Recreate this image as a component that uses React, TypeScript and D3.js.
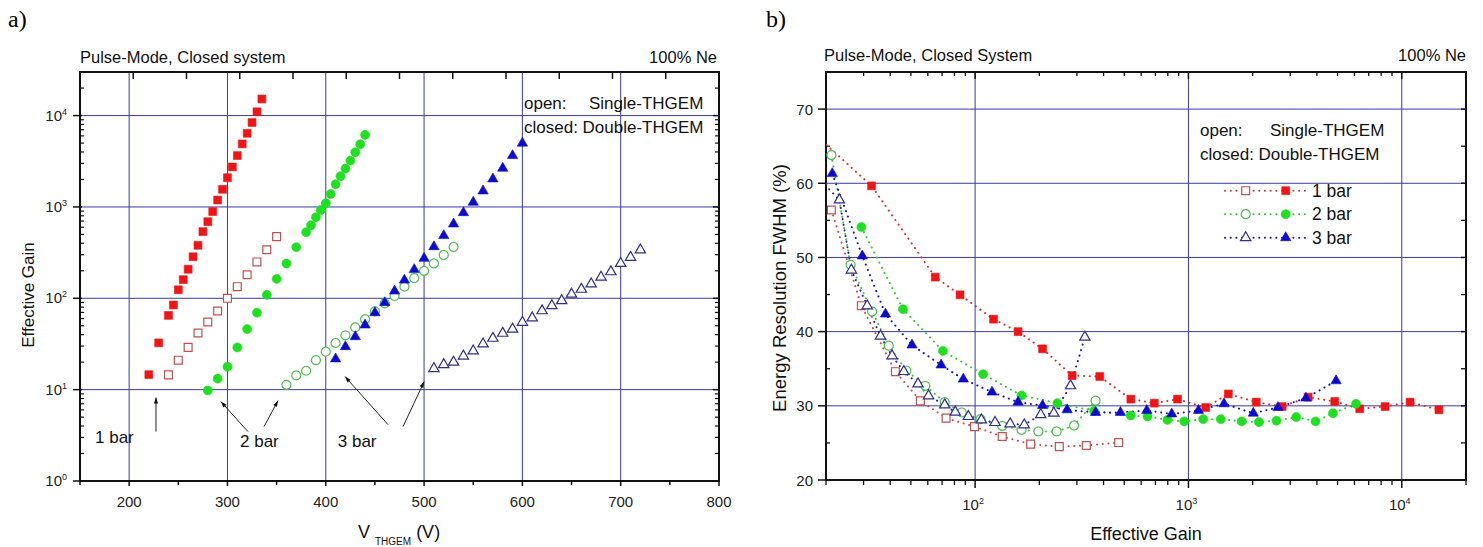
import React from 'react';
import * as d3 from 'd3';

const FONT = "'Liberation Sans', Arial, Helvetica, sans-serif";
const SERIF = "'Liberation Serif', 'Times New Roman', serif";

// ---------- Panel a: Effective gain vs V_THGEM ----------
const a1barSingleV = [240, 250, 260, 270, 280, 290, 300, 310, 320, 330, 340, 350];
const a1barSingleGain = [14.5, 21, 29, 41.7, 55, 72.6, 100, 134, 181, 250, 340, 473];
const a1barDoubleV = [220, 230, 240, 245, 250, 255, 260, 265, 270, 275, 280, 285, 290, 295, 300, 305, 310, 315, 320, 325, 330, 335];
const a1barDoubleGain = [14.6, 32.5, 65, 84.5, 124, 160, 208, 285, 380, 537, 690, 890, 1190, 1560, 2090, 2740, 3650, 4900, 6400, 8400, 11000, 15200];
const a2barSingleV = [360, 370, 380, 390, 400, 410, 420, 430, 440, 450, 460, 470, 480, 490, 500, 510, 520, 530];
const a2barSingleGain = [11.3, 14.3, 16.1, 21, 26, 32.4, 39.3, 48, 59, 72, 88, 106, 134, 166, 200, 241, 298, 365];
const a2barDoubleV = [280, 290, 300, 310, 320, 330, 340, 350, 360, 370, 380, 385, 390, 395, 400, 405, 410, 415, 420, 425, 430, 435, 440];
const a2barDoubleGain = [9.8, 13.2, 17.8, 29, 46, 69.5, 109, 163, 240, 363, 528, 631, 771, 927, 1097, 1387, 1774, 2170, 2630, 3215, 3970, 4860, 6150];
const a3barSingleV = [510, 520, 530, 540, 550, 560, 570, 580, 590, 600, 610, 620, 630, 640, 650, 660, 670, 680, 690, 700, 710, 720];
const a3barSingleGain = [17, 18.8, 20, 23.3, 26.5, 31.6, 36.5, 41.4, 46, 54.6, 61, 73, 83, 94, 111, 125.5, 143.6, 170, 195, 241, 281, 338];
const a3barDoubleV = [410, 420, 430, 440, 450, 460, 470, 480, 490, 500, 510, 520, 530, 540, 550, 560, 570, 580, 590, 600];
const a3barDoubleGain = [21.7, 29.5, 38, 51, 69.5, 89.6, 120, 158, 206, 274, 367, 485, 651, 865, 1124, 1496, 2026, 2652, 3646, 4990];

const aXTicks = [200, 300, 400, 500, 600, 700, 800];
const aXMinor = [150, 250, 350, 450, 550, 650, 750];
const aYExponents = [0, 1, 2, 3, 4];

// annotations (data units: V, gain)
const aNoteLabels = ['1 bar', '2 bar', '3 bar'];
const aNoteTextPos = [[165.3, 2.63], [312.8, 2.38], [412.2, 2.38]];
const aArrows = [
  [[227.3, 3.47], [227.3, 8.2]],
  [[320.9, 3.47], [293.4, 7.39]],
  [[337.2, 3.94], [351.4, 7.58]],
  [[463.3, 4.14], [419.6, 13.9]],
  [[478.6, 3.94], [500.0, 12.2]],
];

// ---------- Panel b: Energy resolution vs effective gain ----------
const b1barSingleGain = [21.2, 29.3, 42.3, 55.4, 73.1, 99.3, 134, 182, 248, 332, 471];
const b1barSingleRes = [56.4, 43.5, 34.6, 30.67, 28.34, 27.2, 25.86, 24.84, 24.5, 24.65, 25.05];
const b1barDoubleGain = [14.6, 32.7, 65, 85, 122, 159, 207, 285, 384, 537, 692, 889, 1205, 1538, 2079, 2750, 3640, 4850, 6350, 8350, 10940, 14930];
const b1barDoubleRes = [68.8, 59.65, 47.35, 44.96, 41.68, 40.0, 37.68, 34.08, 33.95, 30.9, 30.36, 30.9, 29.77, 31.6, 30.5, 29.9, 31.17, 30.58, 29.6, 29.9, 30.5, 29.46];
const b2barSingleGain = [21.2, 26.1, 32.9, 39.4, 47.6, 58.4, 72, 86.6, 106, 134, 165, 198, 241, 291, 367];
const b2barSingleRes = [63.8, 49.0, 42.7, 38.1, 34.76, 32.7, 30.5, 29.1, 28.2, 27.3, 26.77, 26.54, 26.54, 27.35, 30.7];
const b2barDoubleGain = [29.3, 45.9, 70.6, 109, 165, 243, 361, 537, 643, 797, 955, 1172, 1417, 1775, 2140, 2586, 3200, 3940, 4760, 6100];
const b2barDoubleRes = [54.1, 43.03, 37.4, 34.27, 31.4, 30.36, 29.3, 28.7, 28.56, 28.1, 27.9, 28.2, 28.2, 27.9, 27.8, 27.98, 28.48, 27.9, 29.0, 30.27];
const b3barSingleGain = [19, 23.1, 26.3, 31.2, 36, 40.8, 46.3, 54, 60.5, 72, 80.7, 93, 107, 124, 146, 170, 203, 234, 280, 327];
const b3barSingleRes = [60.3, 57.76, 48.3, 43.48, 39.4, 36.74, 34.62, 32.96, 31.35, 30.13, 29.15, 28.56, 28.1, 27.75, 27.57, 27.44, 28.8, 29.0, 32.7, 39.26];
const b3barDoubleGain = [21.4, 29.6, 38, 50.6, 69.3, 88, 120, 159, 207, 270, 367, 480, 638, 835, 1114, 1468, 2014, 2627, 3555, 4920];
const b3barDoubleRes = [61.3, 50.2, 42.36, 38.2, 35.5, 33.6, 31.85, 30.5, 30.04, 29.46, 29.1, 29.1, 29.37, 28.9, 29.37, 30.27, 29.0, 29.77, 31.04, 33.37];

const bYTicks = [20, 30, 40, 50, 60, 70];
const bYMinor = [25, 35, 45, 55, 65];
const bXExponents = [2, 3, 4];
const legendLabels = ['1 bar', '2 bar', '3 bar'];

// ---------- styles ----------
const COL = {
  redFill: '#f01515', redOpen: '#c25050',
  greenFill: '#1ee01e', greenOpen: '#4cbf4c',
  blueFill: '#0b0bd0', blueOpen: '#2e2e8c',
};
const GRID = '#3a3aa6';
const AXIS = '#111';
const DOTS = '0.1 5.6';

type Shape = 'square' | 'circle' | 'triangle';
const symType = { square: d3.symbolSquare, circle: d3.symbolCircle, triangle: d3.symbolTriangle };
const symSize = { square: 62, circle: 64, triangle: 46 };
const symPath = (s: Shape) => d3.symbol().type(symType[s]).size(symSize[s])() as string;

function Mk({ x, y, shape, filled, color }: { x: number; y: number; shape: Shape; filled: boolean; color: string }) {
  return (
    <path
      d={symPath(shape)}
      transform={`translate(${x},${y})`}
      fill={filled ? color : '#fff'}
      stroke={color}
      strokeWidth={filled ? 0.6 : 1.2}
    />
  );
}

export default function App() {
  // scales
  const xA = d3.scaleLinear().domain([150, 800]).range([80, 719]);
  const yA = d3.scaleLog().domain([1, 30000]).range([481, 72]);
  const topA = d3.scaleLinear().domain([0, 12]).range(xA.range());
  const xB = d3.scaleLog().domain([20, 20000]).range([826, 1466]);
  const yB = d3.scaleLinear().domain([20, 75]).range([480, 72]);

  const [aL, aR] = xA.range();
  const [aB, aT] = yA.range();
  const [bL, bR] = xB.range();
  const [bBot, bTop] = yB.range();

  const aYMinor: number[] = [];
  for (let e = 0; e <= 4; e++) for (let k = 2; k <= 9; k++) { const v = k * 10 ** e; if (v < 30000) aYMinor.push(v); }
  const bXMinor: number[] = [];
  for (let e = 1; e <= 4; e++) for (let k = 2; k <= 9; k++) { const v = k * 10 ** e; if (v >= 20 && v <= 20000) bXMinor.push(v); }

  const seriesA = [
    { v: a1barSingleV, g: a1barSingleGain, shape: 'square' as Shape, filled: false, color: COL.redOpen },
    { v: a2barSingleV, g: a2barSingleGain, shape: 'circle' as Shape, filled: false, color: COL.greenOpen },
    { v: a3barSingleV, g: a3barSingleGain, shape: 'triangle' as Shape, filled: false, color: COL.blueOpen },
    { v: a1barDoubleV, g: a1barDoubleGain, shape: 'square' as Shape, filled: true, color: COL.redFill },
    { v: a2barDoubleV, g: a2barDoubleGain, shape: 'circle' as Shape, filled: true, color: COL.greenFill },
    { v: a3barDoubleV, g: a3barDoubleGain, shape: 'triangle' as Shape, filled: true, color: COL.blueFill },
  ];

  const seriesB = [
    { g: b1barSingleGain, r: b1barSingleRes, shape: 'square' as Shape, filled: false, color: COL.redOpen, line: '#d04848' },
    { g: b2barSingleGain, r: b2barSingleRes, shape: 'circle' as Shape, filled: false, color: COL.greenOpen, line: '#40c040' },
    { g: b3barSingleGain, r: b3barSingleRes, shape: 'triangle' as Shape, filled: false, color: COL.blueOpen, line: '#22229a' },
    { g: b1barDoubleGain, r: b1barDoubleRes, shape: 'square' as Shape, filled: true, color: COL.redFill, line: '#e02a2a' },
    { g: b2barDoubleGain, r: b2barDoubleRes, shape: 'circle' as Shape, filled: true, color: COL.greenFill, line: '#30cc30' },
    { g: b3barDoubleGain, r: b3barDoubleRes, shape: 'triangle' as Shape, filled: true, color: COL.blueFill, line: '#1414b4' },
  ];

  const lineB = d3.line<[number, number]>().x(d => xB(d[0])).y(d => yB(d[1]));

  const legendColors = [
    [COL.redOpen, COL.redFill, '#d03838'],
    [COL.greenOpen, COL.greenFill, '#38c038'],
    [COL.blueOpen, COL.blueFill, '#1a1aa8'],
  ];
  const legendShapes: Shape[] = ['square', 'circle', 'triangle'];

  return (
    <svg width={1483} height={547} style={{ position: 'absolute', left: 0, top: 0, background: '#fff' }} fontFamily={FONT}>
      <defs>
        <marker id="arrowhead" viewBox="0 0 10 10" refX="10" refY="5" markerWidth="7" markerHeight="6" orient="auto" markerUnits="userSpaceOnUse">
          <path d="M0,1.5L10,5L0,8.5z" fill="#111" />
        </marker>
        <clipPath id="clipB">
          <rect x={bL} y={bTop} width={bR - bL} height={bBot - bTop} />
        </clipPath>
      </defs>
      <rect x={0} y={0} width={1483} height={547} fill="#fff" />

      {/* ================= Panel a ================= */}
      <text x={8} y={27} fontFamily={SERIF} fontSize={24} fill="#000">a)</text>
      <text x={aL} y={63} fontSize={16.5} fill="#111">Pulse-Mode, Closed system</text>
      <text x={aR - 2} y={63} fontSize={16.5} fill="#111" textAnchor="end">100% Ne</text>

      {/* grid */}
      {aXTicks.filter(v => v > 150 && v < 800).map(v => (
        <line key={'agx' + v} x1={xA(v)} x2={xA(v)} y1={aT} y2={aB} stroke={GRID} strokeWidth={1} />
      ))}
      {aYExponents.filter(e => e > 0).map(e => (
        <line key={'agy' + e} x1={aL} x2={aR} y1={yA(10 ** e)} y2={yA(10 ** e)} stroke={GRID} strokeWidth={1} />
      ))}

      {/* ticks */}
      {aXTicks.map(v => <line key={'axt' + v} x1={xA(v)} x2={xA(v)} y1={aB} y2={aB + 5} stroke={AXIS} strokeWidth={1.5} />)}
      {aXMinor.map(v => <line key={'axm' + v} x1={xA(v)} x2={xA(v)} y1={aB} y2={aB + 4} stroke={AXIS} strokeWidth={1.5} />)}
      {d3.range(1, 12).map(i => <line key={'atop' + i} x1={topA(i)} x2={topA(i)} y1={aT} y2={aT + 7} stroke={AXIS} strokeWidth={1.5} />)}
      {aYExponents.map(e => (
        <g key={'ayt' + e}>
          <line x1={aL - 7} x2={aL + 2} y1={yA(10 ** e)} y2={yA(10 ** e)} stroke={AXIS} strokeWidth={1.5} />
          <line x1={aR - 6} x2={aR} y1={yA(10 ** e)} y2={yA(10 ** e)} stroke={AXIS} strokeWidth={1.5} />
        </g>
      ))}
      {aYMinor.map(v => (
        <g key={'aym' + v}>
          <line x1={aL} x2={aL + 4} y1={yA(v)} y2={yA(v)} stroke={AXIS} strokeWidth={1.2} />
          <line x1={aR - 4} x2={aR} y1={yA(v)} y2={yA(v)} stroke={AXIS} strokeWidth={1.2} />
        </g>
      ))}
      <rect x={aL} y={aT} width={aR - aL} height={aB - aT} fill="none" stroke={AXIS} strokeWidth={2} />

      {/* tick labels */}
      {aXTicks.map(v => (
        <text key={'axl' + v} x={xA(v)} y={aB + 26} fontSize={15} textAnchor="middle" fill="#222">{v}</text>
      ))}
      {aYExponents.map(e => (
        <text key={'ayl' + e} x={aL - 13} y={yA(10 ** e) + 5} fontSize={15} textAnchor="end" fill="#222">
          10<tspan fontSize={9} dy={-6}>{e}</tspan>
        </text>
      ))}

      {/* axis titles */}
      <text transform={`translate(34,295) rotate(-90)`} fontSize={17} textAnchor="middle" fill="#111">Effective Gain</text>
      <text x={358} y={538} fontSize={18} fill="#111">
        V<tspan fontSize={10} dx={5} dy={7}>THGEM</tspan><tspan dx={5} dy={-7}>(V)</tspan>
      </text>

      {/* legend text */}
      <text x={524} y={109} fontSize={17} fill="#111">open:</text>
      <text x={589} y={109} fontSize={17} fill="#111">Single-THGEM</text>
      <text x={524} y={133} fontSize={17} fill="#111">closed: Double-THGEM</text>

      {/* data */}
      {seriesA.map((s, si) => (
        <g key={'sa' + si}>
          {s.v.map((v, i) => (
            <Mk key={i} x={xA(v)} y={yA(s.g[i])} shape={s.shape} filled={s.filled} color={s.color} />
          ))}
        </g>
      ))}

      {/* annotations */}
      {aArrows.map((a, i) => (
        <line key={'arr' + i} x1={xA(a[0][0])} y1={yA(a[0][1])} x2={xA(a[1][0])} y2={yA(a[1][1])} stroke="#222" strokeWidth={1} markerEnd="url(#arrowhead)" />
      ))}
      {aNoteLabels.map((t, i) => (
        <text key={'note' + i} x={xA(aNoteTextPos[i][0])} y={yA(aNoteTextPos[i][1])} fontSize={17} fill="#111">{t}</text>
      ))}

      {/* ================= Panel b ================= */}
      <text x={766} y={27} fontFamily={SERIF} fontSize={24} fill="#000">b)</text>
      <text x={bL - 2} y={61} fontSize={16.5} fill="#111">Pulse-Mode, Closed System</text>
      <text x={bR} y={61} fontSize={16.5} fill="#111" textAnchor="end">100% Ne</text>

      {/* grid */}
      {bXExponents.map(e => (
        <line key={'bgx' + e} x1={xB(10 ** e)} x2={xB(10 ** e)} y1={bTop} y2={bBot} stroke={GRID} strokeWidth={1} />
      ))}
      {bYTicks.filter(v => v > 20).map(v => (
        <line key={'bgy' + v} x1={bL} x2={bR} y1={yB(v)} y2={yB(v)} stroke={GRID} strokeWidth={1} />
      ))}

      {/* ticks */}
      {bXExponents.map(e => (
        <g key={'bxt' + e}>
          <line x1={xB(10 ** e)} x2={xB(10 ** e)} y1={bBot} y2={bBot + 8} stroke={AXIS} strokeWidth={1.5} />
          <line x1={xB(10 ** e)} x2={xB(10 ** e)} y1={bTop} y2={bTop + 7} stroke={AXIS} strokeWidth={1.5} />
        </g>
      ))}
      {bXMinor.map(v => (
        <g key={'bxm' + v}>
          <line x1={xB(v)} x2={xB(v)} y1={bBot} y2={bBot + 5} stroke={AXIS} strokeWidth={1.3} />
          <line x1={xB(v)} x2={xB(v)} y1={bTop} y2={bTop + 4} stroke={AXIS} strokeWidth={1.3} />
        </g>
      ))}
      {bYTicks.map(v => (
        <g key={'byt' + v}>
          <line x1={bL - 8} x2={bL} y1={yB(v)} y2={yB(v)} stroke={AXIS} strokeWidth={1.5} />
          <line x1={bR - 5} x2={bR} y1={yB(v)} y2={yB(v)} stroke={AXIS} strokeWidth={1.5} />
        </g>
      ))}
      {bYMinor.map(v => (
        <g key={'bym' + v}>
          <line x1={bL} x2={bL + 4} y1={yB(v)} y2={yB(v)} stroke={AXIS} strokeWidth={1.3} />
          <line x1={bR - 5} x2={bR} y1={yB(v)} y2={yB(v)} stroke={AXIS} strokeWidth={1.3} />
        </g>
      ))}
      <rect x={bL} y={bTop} width={bR - bL} height={bBot - bTop} fill="none" stroke={AXIS} strokeWidth={2} />

      {/* tick labels */}
      {bYTicks.map(v => (
        <text key={'byl' + v} x={bL - 13} y={yB(v) + 5.5} fontSize={15} textAnchor="end" fill="#222">{v}</text>
      ))}
      {bXExponents.map(e => (
        <text key={'bxl' + e} x={xB(10 ** e) - 2} y={bBot + 30} fontSize={15} textAnchor="middle" fill="#222">
          10<tspan fontSize={9} dy={-6}>{e}</tspan>
        </text>
      ))}

      {/* axis titles */}
      <text transform={`translate(786,288) rotate(-90)`} fontSize={18.5} textAnchor="middle" fill="#111">Energy Resolution FWHM (%)</text>
      <text x={1146} y={540} fontSize={18} textAnchor="middle" fill="#111">Effective Gain</text>

      {/* data */}
      <g clipPath="url(#clipB)">
        {seriesB.map((s, si) => (
          <path
            key={'lb' + si}
            d={lineB(s.g.map((g, i) => [g, s.r[i]] as [number, number])) as string}
            fill="none"
            stroke={s.line}
            strokeWidth={2}
            strokeDasharray={DOTS}
            strokeLinecap="round"
          />
        ))}
        {seriesB.map((s, si) => (
          <g key={'mb' + si}>
            {s.g.map((g, i) => (
              <Mk key={i} x={xB(g)} y={yB(s.r[i])} shape={s.shape} filled={s.filled} color={s.color} />
            ))}
          </g>
        ))}
      </g>

      {/* legend */}
      <text x={1200} y={136} fontSize={17} fill="#111">open:</text>
      <text x={1270} y={136} fontSize={17} fill="#111">Single-THGEM</text>
      <text x={1200} y={160} fontSize={17} fill="#111">closed: Double-THGEM</text>
      {legendLabels.map((t, i) => {
        const cy = 190.7 + i * 23.5;
        return (
          <g key={'leg' + i}>
            <line x1={1225} x2={1305} y1={cy} y2={cy} stroke={legendColors[i][2]} strokeWidth={2} strokeDasharray={DOTS} strokeLinecap="round" />
            <Mk x={1245.7} y={cy} shape={legendShapes[i]} filled={false} color={legendColors[i][0]} />
            <Mk x={1285.7} y={cy} shape={legendShapes[i]} filled={true} color={legendColors[i][1]} />
            <text x={1312} y={cy + 6} fontSize={17.5} fill="#111">{t}</text>
          </g>
        );
      })}
    </svg>
  );
}
